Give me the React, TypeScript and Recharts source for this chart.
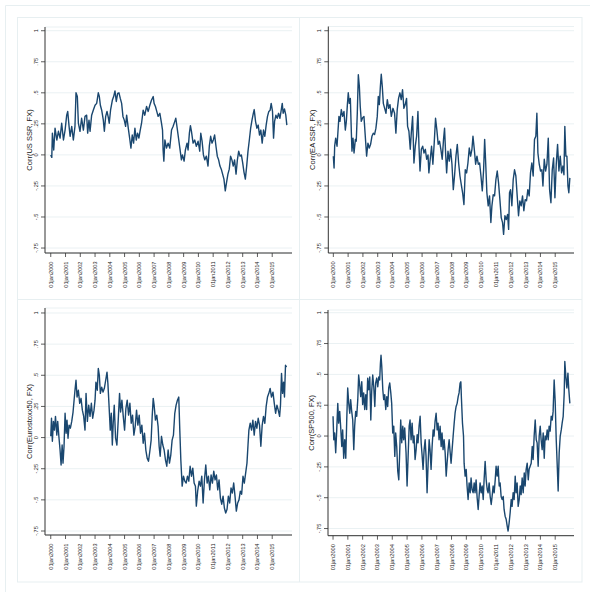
import React from "react";
import { LineChart, Line, XAxis, YAxis, CartesianGrid } from "recharts";

// x values are years since 01jan2000
const yearTicks = [0, 1, 2, 3, 4, 5, 6, 7, 8, 9, 10, 11, 12, 13, 14, 15];
const corrTicks = [-0.75, -0.5, -0.25, 0, 0.25, 0.5, 0.75, 1];

const usSsrYears = [
  0.0, 0.07, 0.11, 0.2, 0.29, 0.41, 0.52, 0.63, 0.74, 0.86,
  0.97, 1.08, 1.15, 1.24, 1.31, 1.42, 1.53, 1.64, 1.71, 1.8,
  1.87, 1.98, 2.09, 2.21, 2.32, 2.43, 2.5, 2.59, 2.66, 2.77,
  2.88, 3.0, 3.11, 3.22, 3.29, 3.36, 3.45, 3.56, 3.63, 3.72,
  3.81, 3.9, 3.96, 4.05, 4.17, 4.26, 4.35, 4.44, 4.53, 4.62,
  4.71, 4.8, 4.89, 4.98, 5.07, 5.14, 5.25, 5.36, 5.43, 5.52,
  5.61, 5.7, 5.79, 5.88, 5.97, 6.06, 6.15, 6.26, 6.37, 6.49,
  6.6, 6.71, 6.82, 6.94, 7.0, 7.09, 7.18, 7.27, 7.39, 7.5,
  7.57, 7.61, 7.66, 7.73, 7.84, 7.95, 8.06, 8.18, 8.29, 8.4,
  8.47, 8.58, 8.67, 8.76, 8.85, 8.92, 9.03, 9.12, 9.23, 9.3,
  9.39, 9.46, 9.53, 9.64, 9.75, 9.86, 9.98, 10.09, 10.16, 10.25,
  10.34, 10.43, 10.54, 10.65, 10.74, 10.83, 10.92, 11.01, 11.1, 11.19,
  11.28, 11.37, 11.46, 11.55, 11.64, 11.73, 11.82, 11.91, 12.0, 12.09,
  12.18, 12.27, 12.36, 12.45, 12.55, 12.64, 12.73, 12.82, 12.91, 13.0,
  13.09, 13.18, 13.27, 13.36, 13.45, 13.54, 13.63, 13.72, 13.78, 13.87,
  13.96, 14.05, 14.14, 14.23, 14.32, 14.41, 14.5, 14.59, 14.68, 14.77,
  14.86, 14.93, 15.02, 15.09, 15.16, 15.25, 15.34, 15.43, 15.52, 15.61,
  15.68, 15.74, 15.83, 15.92, 15.99,
];
const usSsrCorr = [
  0, -0.02, 0.175, 0.04, 0.215, 0.12, 0.19, 0.135, 0.255, 0.12,
  0.2, 0.32, 0.35, 0.23, 0.15, 0.23, 0.12, 0.23, 0.5, 0.47,
  0.255, 0.19, 0.295, 0.2, 0.31, 0.32, 0.175, 0.28, 0.19, 0.32,
  0.36, 0.4, 0.415, 0.5, 0.47, 0.4, 0.36, 0.28, 0.19, 0.31,
  0.35, 0.3, 0.255, 0.36, 0.44, 0.47, 0.515, 0.43, 0.495, 0.5,
  0.455, 0.415, 0.31, 0.28, 0.23, 0.32, 0.215, 0.12, 0.055, 0.16,
  0.095, 0.215, 0.12, 0.175, 0.135, 0.2, 0.255, 0.36, 0.32, 0.39,
  0.35, 0.4, 0.44, 0.47, 0.415, 0.39, 0.35, 0.31, 0.335, 0.255,
  0.2, 0.04, -0.05, 0.12, 0.055, 0.095, 0.055, 0.2, 0.23, 0.27,
  0.295, 0.2, 0.12, 0.04, -0.04, 0, -0.05, 0.04, 0.095, 0.04,
  0.175, 0.235, 0.19, 0.095, 0.12, 0.07, 0.11, 0.03, 0.175, 0.11,
  0, -0.04, -0.01, -0.09, 0.07, 0.15, 0.095, 0.12, 0.16, 0.07,
  -0.01, -0.04, -0.09, -0.115, -0.155, -0.195, -0.29, -0.22, -0.155, -0.115,
  -0.01, -0.04, -0.09, -0.04, -0.155, -0.04, 0.03, -0.01, 0, -0.065,
  -0.14, -0.195, -0.09, 0.03, 0.12, 0.215, 0.28, 0.335, 0.365, 0.27,
  0.215, 0.24, 0.16, 0.2, 0.095, 0.2, 0.15, 0.24, 0.31, 0.35,
  0.36, 0.415, 0.35, 0.135, 0.27, 0.32, 0.295, 0.335, 0.295, 0.36,
  0.415, 0.335, 0.37, 0.32, 0.24,
];

const eaSsrYears = [
  0.0, 0.05, 0.09, 0.16, 0.25, 0.32, 0.38, 0.45, 0.54, 0.63,
  0.72, 0.81, 0.88, 0.95, 1.01, 1.08, 1.15, 1.22, 1.26, 1.33,
  1.4, 1.49, 1.55, 1.62, 1.69, 1.76, 1.82, 1.89, 1.98, 2.07,
  2.16, 2.25, 2.34, 2.43, 2.52, 2.61, 2.7, 2.79, 2.88, 2.97,
  3.04, 3.11, 3.18, 3.24, 3.31, 3.38, 3.47, 3.56, 3.65, 3.74,
  3.83, 3.92, 4.03, 4.14, 4.23, 4.32, 4.41, 4.5, 4.59, 4.68,
  4.77, 4.86, 4.95, 5.02, 5.11, 5.2, 5.27, 5.36, 5.45, 5.54,
  5.63, 5.72, 5.79, 5.86, 5.95, 6.04, 6.13, 6.22, 6.31, 6.4,
  6.46, 6.55, 6.64, 6.73, 6.82, 6.91, 7.0, 7.09, 7.18, 7.27,
  7.36, 7.45, 7.52, 7.59, 7.66, 7.75, 7.84, 7.93, 8.02, 8.11,
  8.2, 8.29, 8.38, 8.47, 8.56, 8.65, 8.74, 8.83, 8.92, 9.01,
  9.1, 9.19, 9.28, 9.37, 9.44, 9.53, 9.62, 9.71, 9.8, 9.89,
  9.98, 10.07, 10.16, 10.23, 10.29, 10.38, 10.47, 10.56, 10.65, 10.72,
  10.81, 10.9, 10.99, 11.08, 11.17, 11.26, 11.35, 11.44, 11.51, 11.6,
  11.69, 11.78, 11.85, 11.91, 11.98, 12.07, 12.16, 12.25, 12.34, 12.43,
  12.52, 12.61, 12.7, 12.79, 12.88, 12.97, 13.06, 13.15, 13.24, 13.33,
  13.42, 13.51, 13.6, 13.69, 13.76, 13.83, 13.92, 14.01, 14.1, 14.17,
  14.26, 14.35, 14.44, 14.53, 14.62, 14.71, 14.8, 14.89, 14.98, 15.07,
  15.16, 15.25, 15.34, 15.43, 15.52, 15.59, 15.65, 15.72, 15.79, 15.86,
  15.92, 15.99,
];
const eaSsrCorr = [
  -0.01, -0.105, 0.07, 0.135, 0.07, 0.2, 0.31, 0.27, 0.365, 0.31,
  0.35, 0.2, 0.27, 0.405, 0.5, 0.415, 0.455, 0.175, 0.03, 0.135,
  0.015, 0.125, 0.11, 0.335, 0.645, 0.55, 0.39, 0.27, 0.3, 0.31,
  0.15, -0.01, 0.095, 0.055, 0.085, 0.15, 0.175, 0.165, 0.215, 0.31,
  0.47, 0.405, 0.55, 0.65, 0.55, 0.415, 0.375, 0.335, 0.445, 0.375,
  0.405, 0.31, 0.375, 0.335, 0.175, 0.365, 0.455, 0.5, 0.445, 0.525,
  0.375, 0.405, 0.455, 0.23, 0.19, 0.045, 0.175, 0.31, -0.065, 0.07,
  0.15, 0.35, 0.07, -0.13, 0.045, 0.07, 0.015, 0.045, -0.035, 0,
  -0.145, -0.035, 0.07, -0.075, 0.095, 0.295, 0.2, 0.085, 0.11, 0.045,
  -0.035, 0.125, 0.215, 0.015, -0.145, 0.03, -0.05, 0.045, -0.075, -0.28,
  -0.16, -0.01, 0.085, -0.065, -0.17, -0.24, -0.305, -0.4, -0.12, -0.145,
  -0.065, 0.055, -0.01, 0.045, 0.15, 0.045, -0.075, -0.01, -0.075, -0.065,
  -0.17, -0.29, -0.12, 0.125, -0.035, -0.305, -0.41, -0.33, -0.545, -0.41,
  -0.32, -0.33, -0.2, -0.13, -0.225, -0.36, -0.505, -0.545, -0.64, -0.49,
  -0.52, -0.48, -0.6, -0.305, -0.28, -0.41, -0.2, -0.12, -0.17, -0.33,
  -0.49, -0.37, -0.41, -0.33, -0.45, -0.36, -0.37, -0.28, -0.33, -0.145,
  -0.065, -0.17, 0.125, 0.15, 0.335, 0.015, -0.075, -0.13, -0.12, -0.25,
  -0.035, -0.13, -0.075, 0.135, -0.28, -0.385, -0.12, -0.025, -0.345, -0.075,
  0.085, -0.13, -0.01, -0.145, -0.09, -0.16, 0.23, -0.01, -0.01, -0.25,
  -0.305, -0.185,
];

const stoxxYears = [
  0.0, 0.05, 0.11, 0.18, 0.25, 0.32, 0.41, 0.47, 0.56, 0.63,
  0.7, 0.77, 0.83, 0.9, 0.97, 1.04, 1.1, 1.17, 1.24, 1.33,
  1.42, 1.51, 1.58, 1.64, 1.71, 1.78, 1.87, 1.96, 2.05, 2.14,
  2.23, 2.32, 2.39, 2.48, 2.57, 2.66, 2.75, 2.84, 2.93, 3.0,
  3.06, 3.15, 3.22, 3.29, 3.36, 3.45, 3.54, 3.63, 3.72, 3.81,
  3.87, 3.94, 4.03, 4.1, 4.17, 4.23, 4.3, 4.39, 4.48, 4.57,
  4.66, 4.73, 4.82, 4.91, 5.0, 5.09, 5.18, 5.27, 5.36, 5.45,
  5.54, 5.63, 5.72, 5.81, 5.9, 5.99, 6.08, 6.17, 6.26, 6.35,
  6.44, 6.53, 6.62, 6.71, 6.8, 6.87, 6.94, 7.0, 7.09, 7.18,
  7.27, 7.34, 7.41, 7.5, 7.59, 7.68, 7.77, 7.86, 7.95, 8.04,
  8.13, 8.22, 8.31, 8.4, 8.49, 8.58, 8.67, 8.74, 8.81, 8.9,
  8.99, 9.08, 9.17, 9.26, 9.35, 9.44, 9.53, 9.62, 9.71, 9.8,
  9.86, 9.95, 10.05, 10.14, 10.23, 10.32, 10.41, 10.5, 10.59, 10.68,
  10.77, 10.86, 10.95, 11.04, 11.13, 11.22, 11.31, 11.4, 11.49, 11.58,
  11.67, 11.76, 11.85, 11.94, 12.03, 12.12, 12.21, 12.3, 12.39, 12.48,
  12.57, 12.66, 12.75, 12.84, 12.93, 13.02, 13.11, 13.2, 13.29, 13.36,
  13.42, 13.51, 13.6, 13.69, 13.78, 13.87, 13.96, 14.05, 14.14, 14.23,
  14.32, 14.41, 14.5, 14.59, 14.68, 14.77, 14.86, 14.95, 15.05, 15.14,
  15.23, 15.32, 15.41, 15.5, 15.56, 15.63, 15.7, 15.77, 15.83, 15.9,
  15.97,
];
const stoxxCorr = [
  0.01, 0.155, -0.03, 0.13, 0.06, 0.17, 0.02, 0.13, -0.005, -0.1,
  -0.22, -0.06, -0.205, -0.07, 0.195, 0.035, 0.14, -0.005, 0.1, 0.075,
  0.13, 0.205, 0.3, 0.38, 0.46, 0.325, 0.38, 0.275, 0.315, 0.22,
  0.17, 0.06, 0.355, 0.13, 0.26, 0.17, 0.275, 0.155, 0.22, 0.3,
  0.445, 0.38, 0.555, 0.5, 0.355, 0.405, 0.365, 0.395, 0.46, 0.525,
  0.435, 0.275, 0.06, 0.195, -0.06, 0.115, 0.26, -0.005, -0.06, 0.14,
  0.355, 0.205, 0.3, 0.17, 0.06, 0.235, 0.3, 0.18, 0.275, 0.115,
  0.18, 0.02, 0.09, 0.22, 0.1, 0.18, 0.035, 0.1, -0.045, 0.035,
  -0.1, -0.165, -0.19, -0.11, -0.02, 0.17, 0.315, 0.26, 0.14, 0.18,
  0.09, -0.07, -0.15, 0.01, -0.06, -0.1, -0.18, -0.23, -0.1, -0.205,
  -0.14, -0.02, 0.02, 0.195, 0.26, 0.3, 0.325, 0.06, -0.18, -0.39,
  -0.31, -0.35, -0.365, -0.31, -0.35, -0.23, -0.31, -0.245, -0.365, -0.39,
  -0.55, -0.43, -0.35, -0.39, -0.31, -0.525, -0.34, -0.22, -0.365, -0.31,
  -0.42, -0.3, -0.365, -0.27, -0.34, -0.3, -0.42, -0.34, -0.485, -0.535,
  -0.47, -0.565, -0.605, -0.575, -0.47, -0.525, -0.405, -0.445, -0.365, -0.47,
  -0.59, -0.525, -0.5, -0.43, -0.455, -0.31, -0.365, -0.285, -0.205, -0.06,
  0.06, 0.115, 0.06, 0.14, 0.02, 0.13, 0.075, 0.155, 0.1, -0.07,
  0.1, 0.17, 0.115, 0.25, 0.325, 0.355, 0.395, 0.325, 0.365, 0.275,
  0.195, 0.26, 0.22, 0.17, 0.26, 0.515, 0.355, 0.445, 0.325, 0.58,
  0.565,
];

const sp500Years = [
  0.0, 0.05, 0.11, 0.18, 0.25, 0.32, 0.38, 0.45, 0.52, 0.59,
  0.65, 0.72, 0.79, 0.86, 0.92, 0.99, 1.06, 1.13, 1.19, 1.26,
  1.33, 1.4, 1.46, 1.53, 1.6, 1.67, 1.73, 1.8, 1.87, 1.94,
  2.0, 2.07, 2.14, 2.21, 2.27, 2.34, 2.41, 2.48, 2.55, 2.61,
  2.68, 2.75, 2.82, 2.88, 2.95, 3.02, 3.09, 3.15, 3.2, 3.24,
  3.29, 3.36, 3.42, 3.49, 3.56, 3.63, 3.69, 3.76, 3.83, 3.9,
  3.96, 4.03, 4.1, 4.17, 4.23, 4.3, 4.37, 4.44, 4.5, 4.57,
  4.64, 4.71, 4.77, 4.84, 4.93, 5.0, 5.07, 5.14, 5.2, 5.27,
  5.34, 5.41, 5.47, 5.54, 5.61, 5.68, 5.74, 5.81, 5.88, 5.95,
  6.01, 6.08, 6.15, 6.22, 6.28, 6.35, 6.42, 6.49, 6.55, 6.62,
  6.69, 6.76, 6.82, 6.89, 6.96, 7.03, 7.09, 7.16, 7.23, 7.3,
  7.36, 7.43, 7.5, 7.57, 7.64, 7.7, 7.77, 7.84, 7.91, 7.97,
  8.04, 8.11, 8.18, 8.24, 8.31, 8.38, 8.45, 8.51, 8.58, 8.63,
  8.67, 8.74, 8.81, 8.85, 8.92, 8.99, 9.05, 9.12, 9.19, 9.26,
  9.32, 9.39, 9.46, 9.53, 9.59, 9.66, 9.73, 9.8, 9.86, 9.93,
  10.0, 10.07, 10.14, 10.2, 10.27, 10.34, 10.41, 10.47, 10.54, 10.61,
  10.68, 10.74, 10.81, 10.88, 10.95, 11.01, 11.08, 11.15, 11.22, 11.28,
  11.35, 11.42, 11.49, 11.55, 11.62, 11.69, 11.76, 11.82, 11.89, 11.96,
  12.03, 12.09, 12.16, 12.23, 12.3, 12.36, 12.43, 12.5, 12.57, 12.64,
  12.7, 12.77, 12.84, 12.91, 12.97, 13.04, 13.11, 13.18, 13.24, 13.31,
  13.38, 13.45, 13.51, 13.58, 13.65, 13.72, 13.78, 13.85, 13.92, 13.99,
  14.05, 14.12, 14.19, 14.26, 14.32, 14.39, 14.46, 14.53, 14.59, 14.66,
  14.73, 14.8, 14.86, 14.93, 15.0, 15.07, 15.14, 15.2, 15.27, 15.34,
  15.41, 15.47, 15.54, 15.61, 15.65, 15.72, 15.79, 15.86, 15.92, 15.99,
];
const sp500Corr = [
  0.16, -0.03, 0.025, -0.135, 0.05, 0.265, 0.105, 0.2, 0.065, -0.085,
  0.05, -0.18, -0.03, -0.18, 0.105, 0.39, 0.265, 0.185, 0.295, 0.2,
  0.13, -0.11, 0.08, 0.2, 0.16, 0.295, 0.495, 0.415, 0.32, 0.44,
  0.255, 0.35, 0.215, 0.335, 0.215, 0.47, 0.375, 0.48, 0.13, 0.36,
  0.495, 0.4, 0.24, 0.43, 0.47, 0.4, 0.48, 0.455, 0.59, 0.655,
  0.565, 0.375, 0.295, 0.335, 0.215, 0.32, 0.24, 0.39, 0.43, 0.35,
  0.265, 0.025, 0.08, -0.165, 0.025, -0.085, -0.285, -0.355, -0.135, 0.13,
  -0.055, 0.08, -0.03, 0.065, -0.135, -0.405, -0.165, 0.08, 0.13, -0.03,
  0.105, -0.055, 0, -0.19, -0.11, 0.01, -0.055, 0.08, 0.16, -0.055,
  -0.15, -0.27, -0.11, -0.03, -0.165, -0.46, -0.22, -0.03, -0.11, -0.27,
  -0.085, 0.05, 0, 0.12, 0.185, 0.05, 0.105, -0.03, 0.08, -0.085,
  0.025, -0.11, -0.03, -0.135, -0.325, -0.22, -0.11, -0.03, -0.135, -0.22,
  -0.11, 0, 0.105, 0.185, 0.24, 0.265, 0.32, 0.35, 0.43, 0.44,
  0.305, 0.105, 0, -0.22, -0.325, -0.27, -0.405, -0.515, -0.38, -0.46,
  -0.34, -0.435, -0.46, -0.38, -0.46, -0.355, -0.5, -0.595, -0.49, -0.38,
  -0.46, -0.405, -0.515, -0.355, -0.205, -0.355, -0.435, -0.46, -0.38, -0.49,
  -0.555, -0.49, -0.405, -0.46, -0.355, -0.245, -0.325, -0.245, -0.405, -0.38,
  -0.49, -0.515, -0.49, -0.595, -0.65, -0.675, -0.73, -0.77, -0.705, -0.62,
  -0.515, -0.57, -0.46, -0.515, -0.325, -0.46, -0.38, -0.57, -0.515, -0.405,
  -0.475, -0.34, -0.46, -0.3, -0.405, -0.27, -0.22, -0.355, -0.27, -0.245,
  -0.22, -0.085, -0.19, 0, 0.13, -0.03, -0.055, -0.245, 0, 0.08,
  -0.03, -0.11, 0.025, -0.18, 0, -0.03, 0.05, -0.03, 0.08, 0.04,
  0.16, 0.13, 0.2, 0.455, 0.28, -0.03, -0.245, -0.445, -0.135, 0,
  0.05, 0.105, 0.16, 0.35, 0.605, 0.48, 0.39, 0.51, 0.375, 0.265,
];

const NAVY = "#1a476f";
const FRAME = "#e7eff1";
const GRID = "#eaf1f3";
const FONT = "'Liberation Sans', Arial, sans-serif";

const fmtCorr = (v: number) => {
  if (v === 0) return "0";
  const s = String(Math.abs(v)).replace(/^0/, "");
  return (v < 0 ? "-" : "") + s;
};

const XTick = (props: any) => {
  const { x, y, payload } = props;
  return (
    <text
      x={x}
      y={y}
      dy={2}
      transform={`rotate(-90 ${x} ${y})`}
      textAnchor="end"
      fontSize={5.6}
      fill="#222"
      fontFamily={FONT}
    >
      {"01jan" + (2000 + payload.value)}
    </text>
  );
};

const YTick = (props: any) => {
  const { x, y, payload } = props;
  return (
    <text
      x={x}
      y={y}
      transform={`rotate(-90 ${x} ${y})`}
      textAnchor="middle"
      fontSize={5.6}
      fill="#222"
      fontFamily={FONT}
    >
      {fmtCorr(payload.value)}
    </text>
  );
};

type PanelProps = {
  title: string;
  years: number[];
  corr: number[];
  left: number;
  top: number;
  width: number;
  height: number;
  mTop: number;
  mRight: number;
  yAxisWidth: number;
  xAxisHeight: number;
  xDomain: [number, number];
  yDomain: [number, number];
};

function Panel(p: PanelProps) {
  const rows = p.years.map((t, i) => ({ t, v: p.corr[i] }));
  const plotH = p.height - p.mTop - p.xAxisHeight;
  const titleX = p.yAxisWidth - 13.5;
  const titleY = p.mTop + plotH / 2;
  return (
    <div style={{ position: "absolute", left: p.left, top: p.top }}>
      <LineChart
        width={p.width}
        height={p.height}
        data={rows}
        margin={{ top: p.mTop, right: p.mRight, left: 0, bottom: 0 }}
      >
        <CartesianGrid vertical={false} stroke={GRID} strokeWidth={1} />
        <XAxis
          type="number"
          dataKey="t"
          domain={p.xDomain}
          ticks={yearTicks}
          interval={0}
          allowDataOverflow
          height={p.xAxisHeight}
          tick={<XTick />}
          tickSize={4}
          tickMargin={4.5}
          axisLine={{ stroke: "#333", strokeWidth: 1 }}
          tickLine={{ stroke: "#333", strokeWidth: 0.8 }}
        />
        <YAxis
          type="number"
          domain={p.yDomain}
          ticks={corrTicks}
          interval={0}
          allowDataOverflow
          width={p.yAxisWidth}
          tick={<YTick />}
          tickSize={4}
          tickMargin={3.3}
          axisLine={{ stroke: "#333", strokeWidth: 1 }}
          tickLine={{ stroke: "#333", strokeWidth: 0.8 }}
          label={() => (
            <text
              x={titleX}
              y={titleY}
              transform={`rotate(-90 ${titleX} ${titleY})`}
              textAnchor="middle"
              fontSize={7.5}
              fill="#222"
              fontFamily={FONT}
            >
              {p.title}
            </text>
          )}
        />
        <Line
          type="linear"
          dataKey="v"
          stroke={NAVY}
          strokeWidth={1.4}
          strokeLinejoin="round"
          dot={false}
          activeDot={false}
          isAnimationActive={false}
        />
      </LineChart>
    </div>
  );
}

export default function App() {
  return (
    <div
      style={{
        position: "absolute",
        left: 0,
        top: 0,
        width: 590,
        height: 592,
        background: "#fff",
        overflow: "hidden",
      }}
    >
      <svg width={590} height={592} style={{ position: "absolute", left: 0, top: 0 }}>
        <line x1={5.5} y1={5.5} x2={590} y2={5.5} stroke={FRAME} />
        <line x1={5.5} y1={5.5} x2={5.5} y2={592} stroke={FRAME} />
        <rect x={17.5} y={17.5} width={564.5} height={564.5} fill="none" stroke={FRAME} />
        <line x1={299.5} y1={17.5} x2={299.5} y2={582} stroke={FRAME} />
        <line x1={17.5} y1={299.5} x2={582} y2={299.5} stroke={FRAME} />
      </svg>
      <Panel
        title="Corr(US SSR, FX)"
        years={usSsrYears}
        corr={usSsrCorr}
        left={17}
        top={17}
        width={282}
        height={282}
        mTop={10}
        mRight={7}
        yAxisWidth={28}
        xAxisHeight={46}
        xDomain={[-0.39, 16.34]}
        yDomain={[-0.79, 1.03]}
      />
      <Panel
        title="Corr(EA SSR, FX)"
        years={eaSsrYears}
        corr={eaSsrCorr}
        left={299}
        top={17}
        width={283}
        height={282}
        mTop={9.5}
        mRight={8}
        yAxisWidth={29.3}
        xAxisHeight={46}
        xDomain={[-0.34, 16.27]}
        yDomain={[-0.79, 1.034]}
      />
      <Panel
        title="Corr(Eurostoxx50, FX)"
        years={stoxxYears}
        corr={stoxxCorr}
        left={17}
        top={299}
        width={282}
        height={283}
        mTop={9}
        mRight={7}
        yAxisWidth={28}
        xAxisHeight={47}
        xDomain={[-0.39, 16.34]}
        yDomain={[-0.782, 1.04]}
      />
      <Panel
        title="Corr(SP500, FX)"
        years={sp500Years}
        corr={sp500Corr}
        left={299}
        top={299}
        width={283}
        height={283}
        mTop={11}
        mRight={8}
        yAxisWidth={29}
        xAxisHeight={46.3}
        xDomain={[-0.34, 16.27]}
        yDomain={[-0.808, 1.022]}
      />
    </div>
  );
}
